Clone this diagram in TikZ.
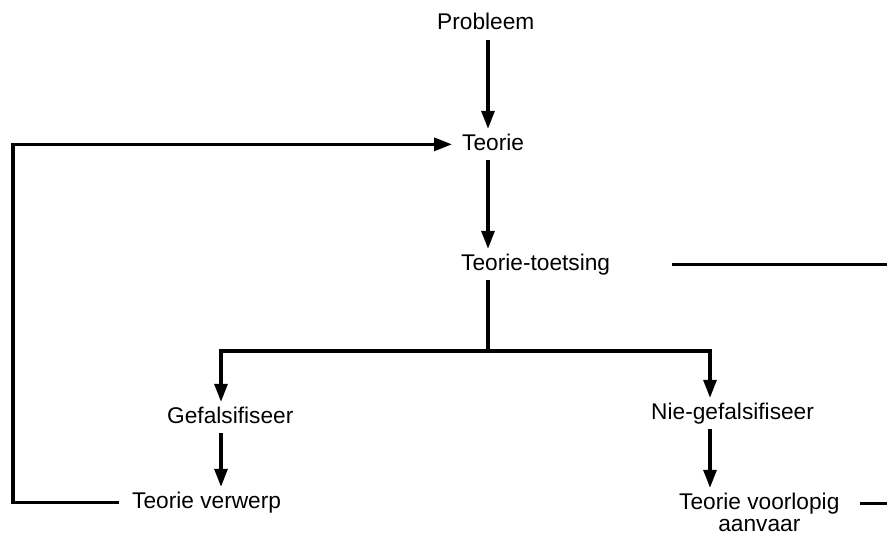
\documentclass[tikz,border=0pt]{standalone}
\usepackage{fontspec}
\setmainfont{Liberation Sans}
\usetikzlibrary{arrows.meta, calc}
\tikzset{
    teks/.style={inner sep=4pt, anchor=base west, text height=17pt, text depth=5.7pt, font=\fontsize{22.7}{26}\selectfont},
    lyn/.style={line width=3.2pt},
    pyl/.style={lyn, -{Triangle[length=18pt, width=13pt]}}
}

\begin{document}
\begin{tikzpicture}[x=1pt, y=-1pt]
    \useasboundingbox (0,0) rectangle (887,535);
    % tekste
    \node[teks] (probleem) at (433,30) {Probleem};
    \node[teks] (teorie) at (458,150) {Teorie};
    \node[teks] (toets) at (457,270) {Teorie-toetsing};
    \node[teks] (gefal) at (163,423) {Gefalsifiseer};
    \node[teks] (niegefal) at (647,419) {Nie-gefalsifiseer};
    \node[teks] (verwerp) at (128,508) {Teorie verwerp};
    \node[teks] (voorlopig) at (675,509) {Teorie voorlopig};
    \node[teks, anchor=base] (aanvaar) at ([yshift=-22pt]voorlopig.base) {aanvaar};
    % kolomme en hoeke
    \coordinate (middel) at (488,351);
    \coordinate (links) at (221,351);
    \coordinate (regs) at (710,351);
    \coordinate (rand) at (13,0);
    \coordinate (kant) at (887,0);
    % pyle
    \draw[pyl] (probleem.south -| middel) -- (teorie.north -| middel);
    \draw[pyl] (teorie.south -| middel) -- (toets.north -| middel);
    \draw[lyn] (toets.south -| middel) -- (middel);
    \draw[lyn, line cap=rect] (links) -- (regs);
    \draw[pyl] (links) -- (links |- gefal.north);
    \draw[pyl] (regs) -- (regs |- niegefal.north);
    \draw[pyl] (gefal.south -| links) -- (links |- verwerp.north);
    \draw[pyl] (niegefal.south -| regs) -- (regs |- voorlopig.north);
    \draw[pyl, shorten <=9pt, shorten >=6pt] (verwerp.west) -- (verwerp.west -| rand) |- (teorie.west);
    \draw[lyn, shorten <=58pt] (toets.east) -- (toets.east -| kant);
    \draw[lyn, shorten <=16pt] (voorlopig.east) -- (voorlopig.east -| kant);
\end{tikzpicture}
\end{document}
